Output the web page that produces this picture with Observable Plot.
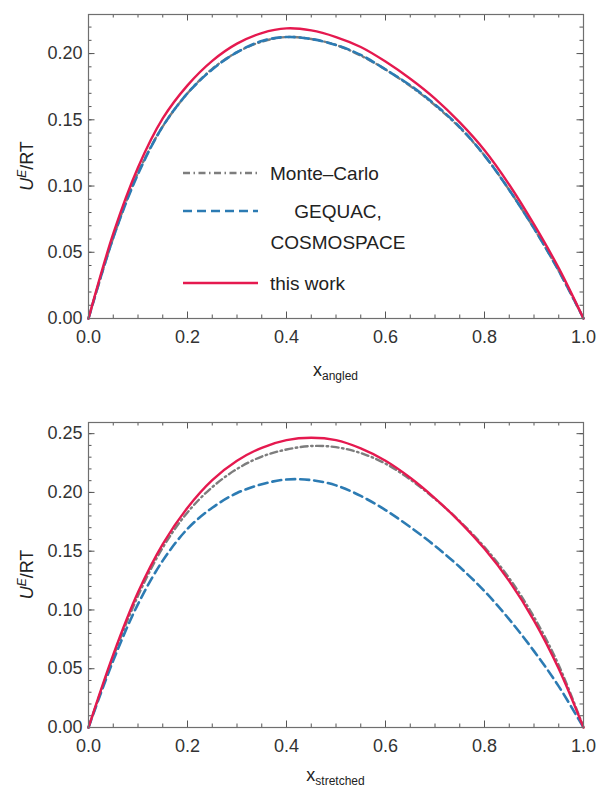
<!DOCTYPE html>
<html>
<head>
<meta charset="utf-8">
<script src="https://cdn.jsdelivr.net/npm/d3@7"></script>
<script src="https://cdn.jsdelivr.net/npm/@observablehq/plot@0.6"></script>
<style>
  body { margin: 0; background: #fff; }
  #chart svg { display: block; }
</style>
</head>
<body>
<div id="chart"></div>
<script>
// Mole fraction grid shared by all curves
const xs = [0, 0.05, 0.10, 0.15, 0.20, 0.25, 0.30, 0.35, 0.40, 0.45, 0.50,
            0.55, 0.60, 0.65, 0.70, 0.75, 0.80, 0.85, 0.90, 0.95, 1.00];

// Excess internal energy U^E/RT, angled molecules
const angledMonteCarlo = [0, 0.061, 0.110, 0.145, 0.170, 0.1885, 0.201, 0.209, 0.2125, 0.211, 0.2065,
                          0.1985, 0.188, 0.1755, 0.161, 0.144, 0.123, 0.097, 0.068, 0.036, 0];
const angledGequac     = [0, 0.061, 0.109, 0.145, 0.170, 0.188, 0.201, 0.2095, 0.2125, 0.211, 0.2065,
                          0.199, 0.188, 0.176, 0.1615, 0.1445, 0.123, 0.097, 0.068, 0.036, 0];
const angledThisWork   = [0, 0.064, 0.114, 0.151, 0.176, 0.1945, 0.2075, 0.2155, 0.219, 0.2175, 0.2125,
                          0.205, 0.194, 0.181, 0.166, 0.148, 0.127, 0.101, 0.071, 0.038, 0];

// Excess internal energy U^E/RT, stretched molecules
const stretchedMonteCarlo = [0, 0.060, 0.112, 0.153, 0.183, 0.2045, 0.220, 0.2305, 0.2365, 0.2395, 0.2385,
                             0.2335, 0.2245, 0.211, 0.1945, 0.1755, 0.1535, 0.127, 0.094, 0.053, 0];
const stretchedGequac     = [0, 0.057, 0.105, 0.142, 0.169, 0.187, 0.1995, 0.207, 0.211, 0.2105, 0.206,
                             0.197, 0.185, 0.1705, 0.1545, 0.1365, 0.116, 0.092, 0.065, 0.035, 0];
const stretchedThisWork   = [0, 0.062, 0.115, 0.156, 0.187, 0.2105, 0.227, 0.238, 0.2445, 0.2465, 0.2445,
                             0.2375, 0.227, 0.2125, 0.195, 0.175, 0.152, 0.1245, 0.091, 0.050, 0];

const seriesNames = ["Monte\u2013Carlo", "GEQUAC,", "COSMOSPACE", "this work"];

// Tick values
const xTicks = [0, 0.2, 0.4, 0.6, 0.8, 1.0];
const angledYTicks = [0, 0.05, 0.10, 0.15, 0.20];
const stretchedYTicks = [0, 0.05, 0.10, 0.15, 0.20, 0.25];

const FONT = "'Liberation Sans', Arial, Helvetica, sans-serif";
const styles = {
  monte: { stroke: "#7d7d7d", strokeWidth: 2.4, strokeDasharray: "7,3.5,1.5,3.5" },
  gequac: { stroke: "#2c7bb3", strokeWidth: 2.6, strokeDasharray: "9,5" },
  work: { stroke: "#e5194f", strokeWidth: 2.4, strokeDasharray: null }
};

function rows(values) {
  return xs.map((x, i) => ({ x, y: values[i] }));
}

function panel({ monte, gequac, work, yMax, yTicks, height, marginTop, marginBottom, xSub, xTitleOffset }) {
  const width = 597, marginLeft = 88, marginRight = 14;
  const innerH = height - marginTop - marginBottom;
  const innerW = width - marginLeft - marginRight;
  const xMinor = d3.range(0, 1.0001, 0.05);
  const yMinor = d3.range(0, yMax, 0.01);
  const tickStroke = "#555";
  const major = 6.5, minor = 3.5;

  const svg = Plot.plot({
    width, height, marginTop, marginBottom, marginLeft, marginRight,
    style: { fontFamily: FONT, fontSize: "18px", color: "#333", background: "#fff" },
    x: { domain: [0, 1] },
    y: { domain: [0, yMax] },
    marks: [
      // inward ticks on all four sides
      Plot.tickX(xMinor, { x: d => d, insetTop: innerH - minor, stroke: tickStroke }),
      Plot.tickX(xMinor, { x: d => d, insetBottom: innerH - minor, stroke: tickStroke }),
      Plot.tickX(xTicks, { x: d => d, insetTop: innerH - major, stroke: tickStroke }),
      Plot.tickX(xTicks, { x: d => d, insetBottom: innerH - major, stroke: tickStroke }),
      Plot.tickY(yMinor, { y: d => d, insetRight: innerW - minor, stroke: tickStroke }),
      Plot.tickY(yMinor, { y: d => d, insetLeft: innerW - minor, stroke: tickStroke }),
      Plot.tickY(yTicks, { y: d => d, insetRight: innerW - major, stroke: tickStroke }),
      Plot.tickY(yTicks, { y: d => d, insetLeft: innerW - major, stroke: tickStroke }),
      Plot.axisX(xTicks, { tickSize: 0, tickPadding: 12, tickFormat: d3.format(".1f"), label: null, fontSize: 18 }),
      Plot.axisY(yTicks, { tickSize: 0, tickPadding: 6, tickFormat: d3.format(".2f"), label: null, fontSize: 18 }),
      Plot.line(rows(monte), { x: "x", y: "y", curve: "catmull-rom", ...styles.monte }),
      Plot.line(rows(gequac), { x: "x", y: "y", curve: "catmull-rom", ...styles.gequac }),
      Plot.line(rows(work), { x: "x", y: "y", curve: "catmull-rom", ...styles.work }),
      Plot.frame({ stroke: "#6f6f6f", strokeWidth: 1.2 })
    ]
  });

  const s = d3.select(svg);
  // y-axis title: U^E/RT
  const yt = s.append("text")
    .attr("transform", `translate(33,${marginTop + innerH / 2}) rotate(-90)`)
    .attr("text-anchor", "middle")
    .attr("font-family", FONT).attr("font-size", 18).attr("fill", "#222");
  yt.append("tspan").attr("font-style", "italic").text("U");
  yt.append("tspan").attr("font-style", "italic").attr("font-size", 12).attr("dy", -7).text("E");
  yt.append("tspan").attr("dy", 7).text("/RT");

  // x-axis title: x with subscript
  const xt = s.append("text")
    .attr("x", marginLeft + innerW / 2)
    .attr("y", height - marginBottom + xTitleOffset)
    .attr("text-anchor", "middle")
    .attr("font-family", FONT).attr("font-size", 18).attr("fill", "#222");
  xt.append("tspan").text("x");
  xt.append("tspan").attr("font-size", 12).attr("dy", 3.5).text(xSub);
  return svg;
}

const upperSvg = panel({
  monte: angledMonteCarlo, gequac: angledGequac, work: angledThisWork,
  yMax: 0.2295, yTicks: angledYTicks, height: 395, marginTop: 14, marginBottom: 77,
  xSub: "angled", xTitleOffset: 58
});

// legend inside the upper panel
const lg = d3.select(upperSvg).append("g")
  .attr("font-family", FONT).attr("font-size", 19).attr("fill", "#222");
const legendItems = [
  { style: styles.monte, ly: 173, label: [seriesNames[0]], tx: 270, anchor: "start" },
  { style: styles.gequac, ly: 211, label: [seriesNames[1], seriesNames[2]], tx: 338, anchor: "middle" },
  { style: styles.work, ly: 283, label: [seriesNames[3]], tx: 270, anchor: "start" }
];
legendItems.forEach(item => {
  lg.append("line")
    .attr("x1", 183).attr("x2", 258).attr("y1", item.ly).attr("y2", item.ly)
    .attr("stroke", item.style.stroke).attr("stroke-width", item.style.strokeWidth)
    .attr("stroke-dasharray", item.style.strokeDasharray);
  item.label.forEach((t, j) => {
    lg.append("text").attr("x", item.tx).attr("y", item.ly + 7 + j * 31)
      .attr("text-anchor", item.anchor).text(t);
  });
});

const lowerSvg = panel({
  monte: stretchedMonteCarlo, gequac: stretchedGequac, work: stretchedThisWork,
  yMax: 0.2595, yTicks: stretchedYTicks, height: 395, marginTop: 27, marginBottom: 63,
  xSub: "stretched", xTitleOffset: 54
});

document.getElementById("chart").append(upperSvg, lowerSvg);
</script>
</body>
</html>
